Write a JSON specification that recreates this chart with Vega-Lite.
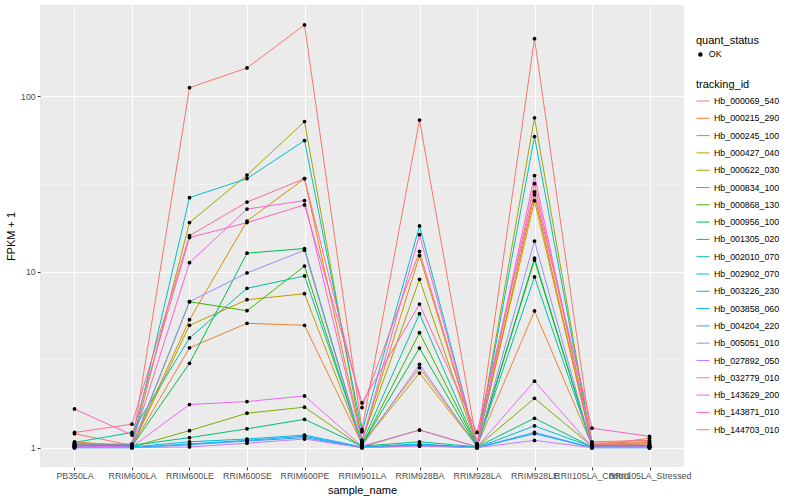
{
"$schema": "https://vega.github.io/schema/vega-lite/v6.json",
"width": 644, "height": 462,
"autosize": {"type": "none"},
"padding": {"left": 40, "top": 5, "right": 116, "bottom": 33},
"background": "white",
"config": {
  "view": {"fill": "#EBEBEB", "stroke": null},
  "font": "Liberation Sans",
  "axis": {"domain": false, "gridColor": "white", "gridWidth": 1.1, "tickColor": "#333333", "tickSize": 2.75, "tickWidth": 1, "labelColor": "#4D4D4D", "labelFontSize": 8.8, "titleFontSize": 11, "titleFontWeight": "normal", "titleColor": "black", "labelPadding": 2},
  "legend": {"titleFontSize": 11, "titleFontWeight": "normal", "titleColor": "black", "labelFontSize": 8.8, "labelColor": "black", "titlePadding": 4}
},
"data": {"values": [
{"id":"Hb_000069_540","sample":"PB350LA","fpkm":1.2,"status":"OK"},{"id":"Hb_000069_540","sample":"RRIM600LA","fpkm":1.03,"status":"OK"},{"id":"Hb_000069_540","sample":"RRIM600LE","fpkm":112,"status":"OK"},{"id":"Hb_000069_540","sample":"RRIM600SE","fpkm":145,"status":"OK"},{"id":"Hb_000069_540","sample":"RRIM600PE","fpkm":255,"status":"OK"},{"id":"Hb_000069_540","sample":"RRIM901LA","fpkm":1.27,"status":"OK"},{"id":"Hb_000069_540","sample":"RRIM928BA","fpkm":73.2,"status":"OK"},{"id":"Hb_000069_540","sample":"RRIM928LA","fpkm":1.05,"status":"OK"},{"id":"Hb_000069_540","sample":"RRIM928LE","fpkm":213,"status":"OK"},{"id":"Hb_000069_540","sample":"RRII105LA_Control","fpkm":1.06,"status":"OK"},{"id":"Hb_000069_540","sample":"RRII105LA_Stressed","fpkm":1.08,"status":"OK"},
{"id":"Hb_000215_290","sample":"PB350LA","fpkm":1.08,"status":"OK"},{"id":"Hb_000215_290","sample":"RRIM600LA","fpkm":1.02,"status":"OK"},{"id":"Hb_000215_290","sample":"RRIM600LE","fpkm":3.7,"status":"OK"},{"id":"Hb_000215_290","sample":"RRIM600SE","fpkm":5.1,"status":"OK"},{"id":"Hb_000215_290","sample":"RRIM600PE","fpkm":4.97,"status":"OK"},{"id":"Hb_000215_290","sample":"RRIM901LA","fpkm":1.05,"status":"OK"},{"id":"Hb_000215_290","sample":"RRIM928BA","fpkm":2.85,"status":"OK"},{"id":"Hb_000215_290","sample":"RRIM928LA","fpkm":1.02,"status":"OK"},{"id":"Hb_000215_290","sample":"RRIM928LE","fpkm":6.0,"status":"OK"},{"id":"Hb_000215_290","sample":"RRII105LA_Control","fpkm":1.03,"status":"OK"},{"id":"Hb_000215_290","sample":"RRII105LA_Stressed","fpkm":1.13,"status":"OK"},
{"id":"Hb_000245_100","sample":"PB350LA","fpkm":1.06,"status":"OK"},{"id":"Hb_000245_100","sample":"RRIM600LA","fpkm":1.03,"status":"OK"},{"id":"Hb_000245_100","sample":"RRIM600LE","fpkm":5.35,"status":"OK"},{"id":"Hb_000245_100","sample":"RRIM600SE","fpkm":19.5,"status":"OK"},{"id":"Hb_000245_100","sample":"RRIM600PE","fpkm":34,"status":"OK"},{"id":"Hb_000245_100","sample":"RRIM901LA","fpkm":1.1,"status":"OK"},{"id":"Hb_000245_100","sample":"RRIM928BA","fpkm":12.4,"status":"OK"},{"id":"Hb_000245_100","sample":"RRIM928LA","fpkm":1.03,"status":"OK"},{"id":"Hb_000245_100","sample":"RRIM928LE","fpkm":25.4,"status":"OK"},{"id":"Hb_000245_100","sample":"RRII105LA_Control","fpkm":1.04,"status":"OK"},{"id":"Hb_000245_100","sample":"RRII105LA_Stressed","fpkm":1.07,"status":"OK"},
{"id":"Hb_000427_040","sample":"PB350LA","fpkm":1.05,"status":"OK"},{"id":"Hb_000427_040","sample":"RRIM600LA","fpkm":1.02,"status":"OK"},{"id":"Hb_000427_040","sample":"RRIM600LE","fpkm":4.97,"status":"OK"},{"id":"Hb_000427_040","sample":"RRIM600SE","fpkm":6.95,"status":"OK"},{"id":"Hb_000427_040","sample":"RRIM600PE","fpkm":7.52,"status":"OK"},{"id":"Hb_000427_040","sample":"RRIM901LA","fpkm":1.05,"status":"OK"},{"id":"Hb_000427_040","sample":"RRIM928BA","fpkm":2.66,"status":"OK"},{"id":"Hb_000427_040","sample":"RRIM928LA","fpkm":1.02,"status":"OK"},{"id":"Hb_000427_040","sample":"RRIM928LE","fpkm":27.5,"status":"OK"},{"id":"Hb_000427_040","sample":"RRII105LA_Control","fpkm":1.03,"status":"OK"},{"id":"Hb_000427_040","sample":"RRII105LA_Stressed","fpkm":1.05,"status":"OK"},
{"id":"Hb_000622_030","sample":"PB350LA","fpkm":1.04,"status":"OK"},{"id":"Hb_000622_030","sample":"RRIM600LA","fpkm":1.02,"status":"OK"},{"id":"Hb_000622_030","sample":"RRIM600LE","fpkm":19.1,"status":"OK"},{"id":"Hb_000622_030","sample":"RRIM600SE","fpkm":35.6,"status":"OK"},{"id":"Hb_000622_030","sample":"RRIM600PE","fpkm":71.8,"status":"OK"},{"id":"Hb_000622_030","sample":"RRIM901LA","fpkm":1.1,"status":"OK"},{"id":"Hb_000622_030","sample":"RRIM928BA","fpkm":9.08,"status":"OK"},{"id":"Hb_000622_030","sample":"RRIM928LA","fpkm":1.02,"status":"OK"},{"id":"Hb_000622_030","sample":"RRIM928LE","fpkm":75.4,"status":"OK"},{"id":"Hb_000622_030","sample":"RRII105LA_Control","fpkm":1.02,"status":"OK"},{"id":"Hb_000622_030","sample":"RRII105LA_Stressed","fpkm":1.03,"status":"OK"},
{"id":"Hb_000834_100","sample":"PB350LA","fpkm":1.03,"status":"OK"},{"id":"Hb_000834_100","sample":"RRIM600LA","fpkm":1.01,"status":"OK"},{"id":"Hb_000834_100","sample":"RRIM600LE","fpkm":1.25,"status":"OK"},{"id":"Hb_000834_100","sample":"RRIM600SE","fpkm":1.57,"status":"OK"},{"id":"Hb_000834_100","sample":"RRIM600PE","fpkm":1.7,"status":"OK"},{"id":"Hb_000834_100","sample":"RRIM901LA","fpkm":1.01,"status":"OK"},{"id":"Hb_000834_100","sample":"RRIM928BA","fpkm":1.26,"status":"OK"},{"id":"Hb_000834_100","sample":"RRIM928LA","fpkm":1.01,"status":"OK"},{"id":"Hb_000834_100","sample":"RRIM928LE","fpkm":1.91,"status":"OK"},{"id":"Hb_000834_100","sample":"RRII105LA_Control","fpkm":1.02,"status":"OK"},{"id":"Hb_000834_100","sample":"RRII105LA_Stressed","fpkm":1.02,"status":"OK"},
{"id":"Hb_000868_130","sample":"PB350LA","fpkm":1.02,"status":"OK"},{"id":"Hb_000868_130","sample":"RRIM600LA","fpkm":1.02,"status":"OK"},{"id":"Hb_000868_130","sample":"RRIM600LE","fpkm":6.77,"status":"OK"},{"id":"Hb_000868_130","sample":"RRIM600SE","fpkm":6.02,"status":"OK"},{"id":"Hb_000868_130","sample":"RRIM600PE","fpkm":10.8,"status":"OK"},{"id":"Hb_000868_130","sample":"RRIM901LA","fpkm":1.03,"status":"OK"},{"id":"Hb_000868_130","sample":"RRIM928BA","fpkm":4.51,"status":"OK"},{"id":"Hb_000868_130","sample":"RRIM928LA","fpkm":1.02,"status":"OK"},{"id":"Hb_000868_130","sample":"RRIM928LE","fpkm":11.7,"status":"OK"},{"id":"Hb_000868_130","sample":"RRII105LA_Control","fpkm":1.02,"status":"OK"},{"id":"Hb_000868_130","sample":"RRII105LA_Stressed","fpkm":1.01,"status":"OK"},
{"id":"Hb_000956_100","sample":"PB350LA","fpkm":1.02,"status":"OK"},{"id":"Hb_000956_100","sample":"RRIM600LA","fpkm":1.02,"status":"OK"},{"id":"Hb_000956_100","sample":"RRIM600LE","fpkm":3.02,"status":"OK"},{"id":"Hb_000956_100","sample":"RRIM600SE","fpkm":12.8,"status":"OK"},{"id":"Hb_000956_100","sample":"RRIM600PE","fpkm":13.6,"status":"OK"},{"id":"Hb_000956_100","sample":"RRIM901LA","fpkm":1.04,"status":"OK"},{"id":"Hb_000956_100","sample":"RRIM928BA","fpkm":3.69,"status":"OK"},{"id":"Hb_000956_100","sample":"RRIM928LA","fpkm":1.01,"status":"OK"},{"id":"Hb_000956_100","sample":"RRIM928LE","fpkm":12.0,"status":"OK"},{"id":"Hb_000956_100","sample":"RRII105LA_Control","fpkm":1.01,"status":"OK"},{"id":"Hb_000956_100","sample":"RRII105LA_Stressed","fpkm":1.01,"status":"OK"},
{"id":"Hb_001305_020","sample":"PB350LA","fpkm":1.04,"status":"OK"},{"id":"Hb_001305_020","sample":"RRIM600LA","fpkm":1.03,"status":"OK"},{"id":"Hb_001305_020","sample":"RRIM600LE","fpkm":1.14,"status":"OK"},{"id":"Hb_001305_020","sample":"RRIM600SE","fpkm":1.28,"status":"OK"},{"id":"Hb_001305_020","sample":"RRIM600PE","fpkm":1.45,"status":"OK"},{"id":"Hb_001305_020","sample":"RRIM901LA","fpkm":1.02,"status":"OK"},{"id":"Hb_001305_020","sample":"RRIM928BA","fpkm":1.08,"status":"OK"},{"id":"Hb_001305_020","sample":"RRIM928LA","fpkm":1.01,"status":"OK"},{"id":"Hb_001305_020","sample":"RRIM928LE","fpkm":1.47,"status":"OK"},{"id":"Hb_001305_020","sample":"RRII105LA_Control","fpkm":1.01,"status":"OK"},{"id":"Hb_001305_020","sample":"RRII105LA_Stressed","fpkm":1.02,"status":"OK"},
{"id":"Hb_002010_070","sample":"PB350LA","fpkm":1.07,"status":"OK"},{"id":"Hb_002010_070","sample":"RRIM600LA","fpkm":1.22,"status":"OK"},{"id":"Hb_002010_070","sample":"RRIM600LE","fpkm":4.21,"status":"OK"},{"id":"Hb_002010_070","sample":"RRIM600SE","fpkm":8.07,"status":"OK"},{"id":"Hb_002010_070","sample":"RRIM600PE","fpkm":9.49,"status":"OK"},{"id":"Hb_002010_070","sample":"RRIM901LA","fpkm":1.06,"status":"OK"},{"id":"Hb_002010_070","sample":"RRIM928BA","fpkm":5.79,"status":"OK"},{"id":"Hb_002010_070","sample":"RRIM928LA","fpkm":1.02,"status":"OK"},{"id":"Hb_002010_070","sample":"RRIM928LE","fpkm":9.37,"status":"OK"},{"id":"Hb_002010_070","sample":"RRII105LA_Control","fpkm":1.02,"status":"OK"},{"id":"Hb_002010_070","sample":"RRII105LA_Stressed","fpkm":1.02,"status":"OK"},
{"id":"Hb_002902_070","sample":"PB350LA","fpkm":1.03,"status":"OK"},{"id":"Hb_002902_070","sample":"RRIM600LA","fpkm":1.04,"status":"OK"},{"id":"Hb_002902_070","sample":"RRIM600LE","fpkm":26.5,"status":"OK"},{"id":"Hb_002902_070","sample":"RRIM600SE","fpkm":34.0,"status":"OK"},{"id":"Hb_002902_070","sample":"RRIM600PE","fpkm":56,"status":"OK"},{"id":"Hb_002902_070","sample":"RRIM901LA","fpkm":1.23,"status":"OK"},{"id":"Hb_002902_070","sample":"RRIM928BA","fpkm":18.3,"status":"OK"},{"id":"Hb_002902_070","sample":"RRIM928LA","fpkm":1.03,"status":"OK"},{"id":"Hb_002902_070","sample":"RRIM928LE","fpkm":59,"status":"OK"},{"id":"Hb_002902_070","sample":"RRII105LA_Control","fpkm":1.03,"status":"OK"},{"id":"Hb_002902_070","sample":"RRII105LA_Stressed","fpkm":1.03,"status":"OK"},
{"id":"Hb_003226_230","sample":"PB350LA","fpkm":1.01,"status":"OK"},{"id":"Hb_003226_230","sample":"RRIM600LA","fpkm":1.01,"status":"OK"},{"id":"Hb_003226_230","sample":"RRIM600LE","fpkm":1.08,"status":"OK"},{"id":"Hb_003226_230","sample":"RRIM600SE","fpkm":1.12,"status":"OK"},{"id":"Hb_003226_230","sample":"RRIM600PE","fpkm":1.18,"status":"OK"},{"id":"Hb_003226_230","sample":"RRIM901LA","fpkm":1.01,"status":"OK"},{"id":"Hb_003226_230","sample":"RRIM928BA","fpkm":1.05,"status":"OK"},{"id":"Hb_003226_230","sample":"RRIM928LA","fpkm":1.0,"status":"OK"},{"id":"Hb_003226_230","sample":"RRIM928LE","fpkm":1.33,"status":"OK"},{"id":"Hb_003226_230","sample":"RRII105LA_Control","fpkm":1.01,"status":"OK"},{"id":"Hb_003226_230","sample":"RRII105LA_Stressed","fpkm":1.0,"status":"OK"},
{"id":"Hb_003858_060","sample":"PB350LA","fpkm":1.0,"status":"OK"},{"id":"Hb_003858_060","sample":"RRIM600LA","fpkm":1.0,"status":"OK"},{"id":"Hb_003858_060","sample":"RRIM600LE","fpkm":1.05,"status":"OK"},{"id":"Hb_003858_060","sample":"RRIM600SE","fpkm":1.1,"status":"OK"},{"id":"Hb_003858_060","sample":"RRIM600PE","fpkm":1.16,"status":"OK"},{"id":"Hb_003858_060","sample":"RRIM901LA","fpkm":1.0,"status":"OK"},{"id":"Hb_003858_060","sample":"RRIM928BA","fpkm":1.04,"status":"OK"},{"id":"Hb_003858_060","sample":"RRIM928LA","fpkm":1.0,"status":"OK"},{"id":"Hb_003858_060","sample":"RRIM928LE","fpkm":1.22,"status":"OK"},{"id":"Hb_003858_060","sample":"RRII105LA_Control","fpkm":1.0,"status":"OK"},{"id":"Hb_003858_060","sample":"RRII105LA_Stressed","fpkm":1.0,"status":"OK"},
{"id":"Hb_004204_220","sample":"PB350LA","fpkm":1.0,"status":"OK"},{"id":"Hb_004204_220","sample":"RRIM600LA","fpkm":1.0,"status":"OK"},{"id":"Hb_004204_220","sample":"RRIM600LE","fpkm":1.04,"status":"OK"},{"id":"Hb_004204_220","sample":"RRIM600SE","fpkm":1.09,"status":"OK"},{"id":"Hb_004204_220","sample":"RRIM600PE","fpkm":1.14,"status":"OK"},{"id":"Hb_004204_220","sample":"RRIM901LA","fpkm":1.0,"status":"OK"},{"id":"Hb_004204_220","sample":"RRIM928BA","fpkm":1.03,"status":"OK"},{"id":"Hb_004204_220","sample":"RRIM928LA","fpkm":1.0,"status":"OK"},{"id":"Hb_004204_220","sample":"RRIM928LE","fpkm":1.2,"status":"OK"},{"id":"Hb_004204_220","sample":"RRII105LA_Control","fpkm":1.0,"status":"OK"},{"id":"Hb_004204_220","sample":"RRII105LA_Stressed","fpkm":1.0,"status":"OK"},
{"id":"Hb_005051_010","sample":"PB350LA","fpkm":1.01,"status":"OK"},{"id":"Hb_005051_010","sample":"RRIM600LA","fpkm":1.01,"status":"OK"},{"id":"Hb_005051_010","sample":"RRIM600LE","fpkm":6.77,"status":"OK"},{"id":"Hb_005051_010","sample":"RRIM600SE","fpkm":9.87,"status":"OK"},{"id":"Hb_005051_010","sample":"RRIM600PE","fpkm":13.3,"status":"OK"},{"id":"Hb_005051_010","sample":"RRIM901LA","fpkm":1.02,"status":"OK"},{"id":"Hb_005051_010","sample":"RRIM928BA","fpkm":2.98,"status":"OK"},{"id":"Hb_005051_010","sample":"RRIM928LA","fpkm":1.01,"status":"OK"},{"id":"Hb_005051_010","sample":"RRIM928LE","fpkm":15.0,"status":"OK"},{"id":"Hb_005051_010","sample":"RRII105LA_Control","fpkm":1.0,"status":"OK"},{"id":"Hb_005051_010","sample":"RRII105LA_Stressed","fpkm":1.01,"status":"OK"},
{"id":"Hb_027892_050","sample":"PB350LA","fpkm":1.0,"status":"OK"},{"id":"Hb_027892_050","sample":"RRIM600LA","fpkm":1.0,"status":"OK"},{"id":"Hb_027892_050","sample":"RRIM600LE","fpkm":1.01,"status":"OK"},{"id":"Hb_027892_050","sample":"RRIM600SE","fpkm":1.06,"status":"OK"},{"id":"Hb_027892_050","sample":"RRIM600PE","fpkm":1.12,"status":"OK"},{"id":"Hb_027892_050","sample":"RRIM901LA","fpkm":1.0,"status":"OK"},{"id":"Hb_027892_050","sample":"RRIM928BA","fpkm":1.02,"status":"OK"},{"id":"Hb_027892_050","sample":"RRIM928LA","fpkm":1.0,"status":"OK"},{"id":"Hb_027892_050","sample":"RRIM928LE","fpkm":1.1,"status":"OK"},{"id":"Hb_027892_050","sample":"RRII105LA_Control","fpkm":1.0,"status":"OK"},{"id":"Hb_027892_050","sample":"RRII105LA_Stressed","fpkm":1.0,"status":"OK"},
{"id":"Hb_032779_010","sample":"PB350LA","fpkm":1.02,"status":"OK"},{"id":"Hb_032779_010","sample":"RRIM600LA","fpkm":1.01,"status":"OK"},{"id":"Hb_032779_010","sample":"RRIM600LE","fpkm":1.76,"status":"OK"},{"id":"Hb_032779_010","sample":"RRIM600SE","fpkm":1.83,"status":"OK"},{"id":"Hb_032779_010","sample":"RRIM600PE","fpkm":1.97,"status":"OK"},{"id":"Hb_032779_010","sample":"RRIM901LA","fpkm":1.02,"status":"OK"},{"id":"Hb_032779_010","sample":"RRIM928BA","fpkm":1.26,"status":"OK"},{"id":"Hb_032779_010","sample":"RRIM928LA","fpkm":1.01,"status":"OK"},{"id":"Hb_032779_010","sample":"RRIM928LE","fpkm":2.39,"status":"OK"},{"id":"Hb_032779_010","sample":"RRII105LA_Control","fpkm":1.01,"status":"OK"},{"id":"Hb_032779_010","sample":"RRII105LA_Stressed","fpkm":1.01,"status":"OK"},
{"id":"Hb_143629_200","sample":"PB350LA","fpkm":1.05,"status":"OK"},{"id":"Hb_143629_200","sample":"RRIM600LA","fpkm":1.05,"status":"OK"},{"id":"Hb_143629_200","sample":"RRIM600LE","fpkm":11.3,"status":"OK"},{"id":"Hb_143629_200","sample":"RRIM600SE","fpkm":22.8,"status":"OK"},{"id":"Hb_143629_200","sample":"RRIM600PE","fpkm":25.5,"status":"OK"},{"id":"Hb_143629_200","sample":"RRIM901LA","fpkm":1.08,"status":"OK"},{"id":"Hb_143629_200","sample":"RRIM928BA","fpkm":16.3,"status":"OK"},{"id":"Hb_143629_200","sample":"RRIM928LA","fpkm":1.04,"status":"OK"},{"id":"Hb_143629_200","sample":"RRIM928LE","fpkm":35.4,"status":"OK"},{"id":"Hb_143629_200","sample":"RRII105LA_Control","fpkm":1.05,"status":"OK"},{"id":"Hb_143629_200","sample":"RRII105LA_Stressed","fpkm":1.05,"status":"OK"},
{"id":"Hb_143871_010","sample":"PB350LA","fpkm":1.66,"status":"OK"},{"id":"Hb_143871_010","sample":"RRIM600LA","fpkm":1.18,"status":"OK"},{"id":"Hb_143871_010","sample":"RRIM600LE","fpkm":15.7,"status":"OK"},{"id":"Hb_143871_010","sample":"RRIM600SE","fpkm":19.1,"status":"OK"},{"id":"Hb_143871_010","sample":"RRIM600PE","fpkm":24.1,"status":"OK"},{"id":"Hb_143871_010","sample":"RRIM901LA","fpkm":1.8,"status":"OK"},{"id":"Hb_143871_010","sample":"RRIM928BA","fpkm":6.57,"status":"OK"},{"id":"Hb_143871_010","sample":"RRIM928LA","fpkm":1.22,"status":"OK"},{"id":"Hb_143871_010","sample":"RRIM928LE","fpkm":28.6,"status":"OK"},{"id":"Hb_143871_010","sample":"RRII105LA_Control","fpkm":1.29,"status":"OK"},{"id":"Hb_143871_010","sample":"RRII105LA_Stressed","fpkm":1.16,"status":"OK"},
{"id":"Hb_144703_010","sample":"PB350LA","fpkm":1.22,"status":"OK"},{"id":"Hb_144703_010","sample":"RRIM600LA","fpkm":1.36,"status":"OK"},{"id":"Hb_144703_010","sample":"RRIM600LE","fpkm":16.1,"status":"OK"},{"id":"Hb_144703_010","sample":"RRIM600SE","fpkm":25,"status":"OK"},{"id":"Hb_144703_010","sample":"RRIM600PE","fpkm":34,"status":"OK"},{"id":"Hb_144703_010","sample":"RRIM901LA","fpkm":1.69,"status":"OK"},{"id":"Hb_144703_010","sample":"RRIM928BA","fpkm":13.1,"status":"OK"},{"id":"Hb_144703_010","sample":"RRIM928LA","fpkm":1.05,"status":"OK"},{"id":"Hb_144703_010","sample":"RRIM928LE","fpkm":31.8,"status":"OK"},{"id":"Hb_144703_010","sample":"RRII105LA_Control","fpkm":1.08,"status":"OK"},{"id":"Hb_144703_010","sample":"RRII105LA_Stressed","fpkm":1.1,"status":"OK"}
]},
"layer": [
  {
    "data": {"values": [{"minor": 3.1623}, {"minor": 31.623}]},
    "mark": {"type": "rule", "color": "white", "strokeWidth": 0.55},
    "encoding": {
      "y": {"field": "minor", "type": "quantitative", "scale": {"type": "log", "domain": [0.776, 331], "nice": false}, "axis": {"title": "FPKM + 1", "values": [1, 10, 100], "format": "d", "grid": true}}
    }
  },
  {
    "mark": {"type": "line", "strokeWidth": 1},
    "encoding": {
      "x": {"field": "sample", "type": "nominal", "sort": ["PB350LA","RRIM600LA","RRIM600LE","RRIM600SE","RRIM600PE","RRIM901LA","RRIM928BA","RRIM928LA","RRIM928LE","RRII105LA_Control","RRII105LA_Stressed"], "scale": {"type": "point", "padding": 0.6}, "axis": {"title": "sample_name", "labelAngle": 0, "grid": true, "labelOverlap": false, "labelBound": false}},
      "y": {"field": "fpkm", "type": "quantitative", "scale": {"type": "log", "domain": [0.776, 331], "nice": false}, "axis": {"title": "FPKM + 1", "values": [1, 10, 100], "format": "d", "grid": true}},
      "stroke": {"field": "id", "type": "nominal", "title": "tracking_id",
        "scale": {"domain": ["Hb_000069_540","Hb_000215_290","Hb_000245_100","Hb_000427_040","Hb_000622_030","Hb_000834_100","Hb_000868_130","Hb_000956_100","Hb_001305_020","Hb_002010_070","Hb_002902_070","Hb_003226_230","Hb_003858_060","Hb_004204_220","Hb_005051_010","Hb_027892_050","Hb_032779_010","Hb_143629_200","Hb_143871_010","Hb_144703_010"],
                  "range": ["#F8766D","#EA8331","#D89000","#C09B00","#A3A500","#7CAE00","#39B600","#00BB4E","#00BF7D","#00C1A3","#00BFC4","#00BAE0","#00B0F6","#35A2FF","#9590FF","#C77CFF","#E76BF3","#FA62DB","#FF62BC","#FF6C91"]},
        "legend": {"orient": "none", "legendX": 656, "legendY": 74, "symbolType": "stroke", "symbolSize": 169, "symbolStrokeWidth": 1, "rowPadding": 5.3}}
    }
  },
  {
    "mark": {"type": "point", "filled": true, "size": 14, "opacity": 1},
    "encoding": {
      "x": {"field": "sample", "type": "nominal", "sort": ["PB350LA","RRIM600LA","RRIM600LE","RRIM600SE","RRIM600PE","RRIM901LA","RRIM928BA","RRIM928LA","RRIM928LE","RRII105LA_Control","RRII105LA_Stressed"], "scale": {"type": "point", "padding": 0.6}, "axis": {"title": "sample_name", "labelAngle": 0, "grid": true, "labelOverlap": false, "labelBound": false}},
      "y": {"field": "fpkm", "type": "quantitative", "scale": {"type": "log", "domain": [0.776, 331], "nice": false}, "axis": {"title": "FPKM + 1", "values": [1, 10, 100], "format": "d", "grid": true}},
      "color": {"field": "status", "type": "nominal", "title": "quant_status", "scale": {"range": ["black"]},
        "legend": {"orient": "none", "legendX": 656, "legendY": 30, "symbolType": "circle", "symbolSize": 20}}
    }
  }
]
}
